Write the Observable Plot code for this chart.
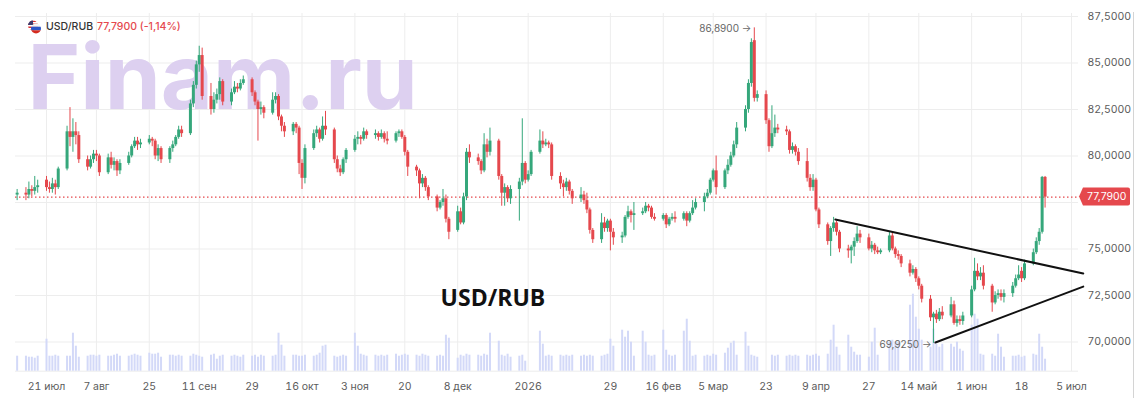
<!DOCTYPE html>
<html>
<head>
<meta charset="utf-8">
<script src="https://cdn.jsdelivr.net/npm/d3@7"></script>
<script src="https://cdn.jsdelivr.net/npm/@observablehq/plot@0.6"></script>
<style>
  body { margin: 0; background: #fff; font-family: Inter, "Noto Sans", sans-serif; overflow: hidden; }
  #chart { position: relative; width: 1146px; height: 413px; overflow: hidden; background: #fff; }
  #chart svg.layer { position: absolute; left: 0; top: 0; }
  #hdr { position: absolute; left: 27px; top: 20px; font-size: 10.5px; line-height: 14px; display: flex; align-items: center; z-index: 5; white-space: nowrap; }
  #hdr svg { margin-right: 4px; }
  #hdr .sym { color: #333; font-weight: 500; }
  #hdr .chg { color: #e5484d; font-weight: 500; margin-left: 4px; }
  #border { position: absolute; left: 1133px; top: 12px; width: 1px; height: 386px; background: #d4d4d4; }
</style>
</head>
<body>
<div id="chart">
  <div id="hdr">
    <svg width="15" height="14" viewBox="0 0 15 14">
      <defs>
        <clipPath id="cu"><circle cx="6" cy="5.5" r="5"/></clipPath>
        <clipPath id="cr"><circle cx="9" cy="8.5" r="5"/></clipPath>
      </defs>
      <g clip-path="url(#cu)">
        <rect x="0" y="0" width="12" height="11" fill="#fff"/>
        <rect x="0" y="0.5" width="12" height="1.5" fill="#d33"/>
        <rect x="0" y="3.5" width="12" height="1.5" fill="#d33"/>
        <rect x="0" y="6.5" width="12" height="1.5" fill="#d33"/>
        <rect x="0" y="9.5" width="12" height="1.5" fill="#d33"/>
        <rect x="0" y="0" width="6" height="5" fill="#3c3b6e"/>
      </g>
      <g clip-path="url(#cr)">
        <rect x="3" y="3" width="12" height="3.7" fill="#f4f4f4"/>
        <rect x="3" y="6.7" width="12" height="3.6" fill="#2b55c7"/>
        <rect x="3" y="10.3" width="12" height="4" fill="#d52b1e"/>
      </g>
    </svg>
    <span class="sym">USD/RUB</span><span class="chg" id="chg"></span>
  </div>
  <div id="border"></div>
</div>
<script>
// ---- data ----
const firstDay = "2025-07-11"; // first trading day shown; bars follow on weekdays

const opens = [
  77.9,
  78.0,77.9,78.2,78.1,78.3,  78.7,78.3,78.2,78.5,78.3,  79.3,81.3,81.0,81.3,81.1,  79.8,79.4,79.8,80.1,80.0,
  79.1,79.9,79.5,79.7,79.2,  79.6,80.0,80.5,80.8,80.6,  80.7,80.9,80.8,80.0,80.4,  79.8,80.4,80.6,81.0,81.4,
  81.2,82.8,83.8,84.9,85.4,  83.2,82.5,83.0,83.3,84.0,  82.9,83.4,83.7,83.6,83.9,  84.1,83.4,82.9,82.5,82.6,
  82.3,83.0,83.2,82.1,81.6,  81.3,81.7,81.5,79.6,78.8,  80.4,81.2,81.4,80.9,81.6,  81.4,79.8,79.3,79.1,79.8,
  80.3,80.9,81.0,80.9,81.3,  81.1,81.2,81.0,81.2,80.9,  80.8,81.2,81.3,81.0,80.2,  79.4,79.2,78.5,78.8,78.3,
  77.8,77.2,77.5,77.7,76.6,  76.0,77.0,76.4,77.8,80.2,  79.9,79.7,79.2,80.6,80.2,  80.8,78.9,78.0,78.3,77.7,
  78.2,78.6,79.6,78.7,79.0,  80.2,80.8,80.6,80.7,80.6,  78.9,78.5,78.3,78.6,78.1,  77.7,77.9,77.6,77.1,76.0,
  75.5,76.4,76.1,76.5,75.9,  75.6,75.7,76.7,77.0,76.8,  76.9,77.0,77.3,77.2,76.7,  76.6,76.8,76.3,76.6,76.7,
  76.6,76.9,76.5,76.9,77.2,  77.5,77.8,78.0,78.7,79.2,  78.3,79.2,79.5,80.0,80.6,  81.5,82.5,83.9,86.2,83.1,
  83.3,81.9,80.5,81.2,81.5,  81.4,81.3,80.3,80.5,80.2,  79.7,78.8,78.3,78.7,77.1,  76.3,75.4,76.1,76.4,75.9,
  75.0,74.9,75.1,75.4,75.8,  75.6,75.0,75.2,74.9,74.8,  74.9,75.7,75.0,74.7,74.6,  74.2,73.7,73.9,73.4,73.0,
  72.3,71.3,71.5,71.2,71.6,  71.4,72.0,71.0,71.2,71.1,  71.4,72.8,73.8,73.5,73.7,  73.0,72.1,72.5,72.6,72.4,
  72.6,73.0,73.4,73.8,73.4,  74.2,74.8,75.4,75.9,78.85
];
const highs = [
  78.2,
  78.3,78.6,78.4,78.9,78.7,  78.9,78.6,78.8,78.7,79.4,  81.6,82.6,82.0,81.8,81.3,  80.0,80.0,80.3,80.3,80.1,
  80.1,80.2,79.9,79.8,79.8,  80.2,80.6,81.0,81.0,80.9,  81.1,81.0,80.9,80.6,80.5,  80.5,80.8,81.1,81.6,81.6,
  83.0,84.0,85.1,85.9,85.8,  83.9,83.4,83.6,84.2,84.1,  83.6,84.0,83.9,84.1,84.3,  84.2,83.5,83.0,82.9,82.7,
  83.4,83.4,83.3,82.2,81.8,  81.8,81.8,81.6,79.8,80.6,  81.4,81.6,81.5,82.1,82.4,  81.5,80.0,79.5,79.9,80.4,
  81.1,81.3,81.1,81.5,81.4,  81.4,81.3,81.4,81.3,81.3,  81.3,81.4,81.4,81.1,80.3,  79.5,79.3,79.0,78.9,78.4,
  77.9,77.6,78.2,77.9,76.7,  77.3,77.2,78.0,80.4,80.6,  80.1,79.8,81.2,80.9,81.5,  80.9,79.0,78.5,78.4,78.4,
  78.8,82.0,79.7,79.2,80.3,  81.4,81.3,80.9,80.8,80.7,  79.1,78.7,78.8,78.7,78.2,  78.3,78.1,78.0,77.2,76.1,
  76.9,76.7,76.6,76.6,76.1,  75.9,76.8,77.3,77.1,77.5,  77.2,77.5,77.4,77.3,76.9,  76.9,76.9,76.7,76.9,77.0,
  77.0,77.0,77.0,77.6,77.7,  78.0,78.2,78.8,79.3,80.0,  79.3,79.8,80.2,80.8,81.8,  82.7,84.1,86.3,86.89,83.5,
  83.5,82.0,82.7,82.2,81.7,  81.6,81.4,80.7,80.6,80.4,  80.4,79.0,79.0,78.8,77.2,  76.4,76.2,76.7,76.5,76.0,
  75.2,75.2,75.6,76.2,76.0,  75.8,75.4,75.3,75.1,75.0,  75.9,75.9,75.1,74.9,74.7,  74.4,74.1,74.0,73.5,73.1,
  72.5,71.6,71.7,71.8,71.9,  72.4,72.2,71.4,71.4,71.6,  73.0,74.5,74.2,74.0,74.1,  73.1,72.7,72.8,72.8,72.8,
  73.2,73.6,74.1,74.0,74.4,  75.0,75.6,76.1,78.9,78.9
];
const lows = [
  77.6,
  77.6,77.7,77.8,77.9,78.0,  78.1,78.0,78.0,77.9,78.2,  79.2,80.5,80.2,80.6,79.6,  79.2,79.3,79.6,79.7,78.9,
  79.0,79.3,79.2,78.9,79.0,  79.5,79.9,80.4,80.3,80.4,  80.6,80.5,79.8,79.7,79.6,  79.6,80.2,80.5,80.9,81.0,
  81.1,82.6,83.6,84.5,83.0,  82.2,82.3,82.8,83.0,82.7,  82.7,83.3,83.4,83.5,83.8,  83.2,82.7,80.8,82.2,82.0,
  82.2,82.8,81.9,81.3,81.0,  81.1,81.2,79.0,78.2,78.5,  80.3,81.0,80.7,80.8,81.1,  79.6,79.1,78.9,79.0,79.6,
  80.2,80.6,80.6,80.8,80.9,  80.9,80.8,80.9,80.7,80.6,  80.7,81.0,80.9,80.0,78.9,  78.9,77.7,78.3,78.1,77.6,
  77.0,77.1,77.3,76.4,75.5,  75.9,76.3,76.3,77.6,79.6,  79.5,79.0,79.1,79.9,80.0,  78.7,77.3,77.3,77.5,77.4,
  76.5,78.4,78.5,78.6,78.9,  80.1,80.4,80.5,80.4,78.7,  78.2,77.8,78.1,77.9,77.4,  77.5,77.4,76.9,75.8,75.3,
  75.3,75.9,75.9,74.9,75.2,  75.3,75.6,76.6,76.4,76.0,  76.8,76.9,77.0,76.6,76.5,  76.5,76.1,76.2,76.5,76.4,
  76.5,76.2,76.4,76.8,77.1,  77.0,77.7,77.9,78.6,77.9,  78.2,79.0,79.4,79.9,80.4,  81.3,82.3,83.7,82.9,82.9,
  81.7,80.2,80.4,81.0,81.2,  81.1,80.1,80.1,80.0,79.5,  78.6,78.1,78.1,77.0,76.1,  75.2,74.6,75.9,75.7,74.8,
  74.5,74.2,74.6,75.3,75.3,  74.9,74.8,74.7,74.7,74.7,  74.8,74.9,74.5,74.4,74.0,  73.5,73.6,73.2,72.8,72.1,
  71.1,69.925,71.0,71.1,71.2,  71.3,70.9,70.8,70.9,70.9,  71.3,72.7,73.3,73.3,72.8,  71.6,72.0,72.3,72.2,72.1,
  72.4,72.9,73.3,73.2,73.3,  74.1,74.7,75.2,75.8,77.2
];
const closes = [
  78.0,
  77.9,78.2,78.1,78.3,78.4,  78.3,78.2,78.5,78.3,79.3,  81.3,81.0,81.3,81.1,79.8,  79.4,79.8,80.1,80.0,79.1,
  79.9,79.5,79.7,79.2,79.6,  80.0,80.5,80.8,80.6,80.7,  80.9,80.8,80.0,80.4,79.8,  80.4,80.6,81.0,81.4,81.2,
  82.8,83.8,84.9,85.4,83.2,  82.5,83.0,83.3,84.0,82.9,  83.4,83.7,83.6,83.9,84.1,  83.4,82.9,82.5,82.6,82.3,
  83.0,83.2,82.1,81.6,81.3,  81.7,81.5,79.6,78.8,80.4,  81.2,81.4,80.9,81.6,81.4,  79.8,79.3,79.1,79.8,80.3,
  80.9,81.0,80.9,81.3,81.1,  81.2,81.0,81.2,80.9,80.8,  81.2,81.3,81.0,80.2,79.4,  79.2,78.5,78.8,78.3,77.8,
  77.2,77.5,77.7,76.6,75.9,  77.0,76.4,77.8,80.2,79.9,  79.7,79.2,80.6,80.2,80.8,  78.9,78.0,78.3,77.7,78.2,
  78.6,79.6,78.7,79.0,80.2,  80.8,80.6,80.7,80.6,78.9,  78.5,78.3,78.6,78.1,77.7,  77.9,77.6,77.1,76.0,75.5,
  76.4,76.1,76.5,75.9,75.6,  75.7,76.7,77.0,76.8,76.9,  77.0,77.3,77.2,76.7,76.6,  76.8,76.3,76.6,76.7,76.6,
  76.9,76.5,76.9,77.2,77.5,  77.8,78.0,78.7,79.2,78.3,  79.2,79.5,80.0,80.6,81.5,  82.5,83.9,86.1,83.1,83.3,
  81.9,80.5,81.2,81.5,81.4,  81.3,80.3,80.5,80.2,79.7,  78.8,78.3,78.7,77.1,76.3,  75.4,76.1,76.4,75.9,75.0,
  74.9,75.1,75.4,75.8,75.6,  75.0,75.2,74.9,74.8,74.9,  75.7,75.0,74.7,74.6,74.2,  73.7,73.9,73.4,73.0,72.3,
  71.3,71.5,71.2,71.6,71.4,  72.0,71.0,71.2,71.1,71.4,  72.8,73.8,73.5,73.7,73.0,  72.1,72.5,72.6,72.4,72.6,
  73.0,73.4,73.6,73.4,74.2,  74.8,75.4,75.9,78.85,77.79
];
const volumes = [
  15,
  15,14,14,13,15,  32,15,15,16,15,  15,15,38,25,14,  15,16,16,15,16,
  15,15,16,17,15,  15,16,17,16,15,  18,17,17,18,14,  16,16,15,16,15,
  15,17,16,15,14,  16,17,12,15,16,  15,16,15,14,16,  15,16,14,16,15,
  15,16,38,26,15,  16,16,15,15,16,  15,16,18,25,26,  15,14,15,16,15,
  38,25,17,16,15,  16,15,16,15,16,  17,15,16,17,16,  16,15,17,16,15,
  15,16,15,36,33,  13,16,15,17,16,  16,15,17,16,38,  30,16,15,17,14,
  15,16,10,0,0,    40,27,15,16,15,  16,15,16,15,16,  15,16,15,16,15,
  15,16,17,32,25,  41,34,40,29,15,  40,29,16,15,16,  41,21,16,15,16,
  40,52,30,15,16,  15,16,15,17,16,  18,23,28,30,16,  39,25,16,15,14,
  0,0,16,15,16,    15,16,15,16,15,  16,15,16,17,15,  17,31,46,24,16,
  36,24,19,16,16,  14,29,43,16,0,   29,31,29,29,0,   66,77,54,42,31,
  24,42,27,24,27,  27,24,29,22,20,  46,57,52,17,16,  17,15,37,24,14,
  15,15,16,14,15,  17,16,37,24,12
];

const tickDates = ["2025-07-21","2025-08-07","2025-08-25","2025-09-11","2025-09-29","2025-10-16","2025-11-03",
  "2025-11-20","2025-12-08","2026-01-01","2026-01-29","2026-02-16","2026-03-05","2026-03-23","2026-04-09",
  "2026-04-27","2026-05-14","2026-06-01","2026-06-18","2026-07-05"];
const tickLabels = ["21 июл","7 авг","25","11 сен","29","16 окт","3 ноя","20","8 дек","2026","29","16 фев",
  "5 мар","23","9 апр","27","14 май","1 июн","18","5 июл"];
const priceTicks = [70, 72.5, 75, 80, 82.5, 85, 87.5];
const priceGrid = [70, 72.5, 75, 77.5, 80, 82.5, 85, 87.5];
const dayChange = "-1,14%";
const upperTrend = [{date: "2026-04-15T14:00", price: 76.59}, {date: "2026-07-09", price: 73.68}];
const lowerTrend = [{date: "2026-05-19T16:00", price: 69.97}, {date: "2026-07-09", price: 72.98}];
const chartLabel = {date: "2025-12-20", price: 72.35, text: "USD/RUB"};

// ---- build table ----
const dates = [];
for (let d = new Date(firstDay + "T00:00Z"); dates.length < closes.length; d = new Date(+d + 864e5)) {
  const wd = d.getUTCDay();
  if (wd !== 0 && wd !== 6) dates.push(d);
}
const candles = closes.map((c, i) => ({date: dates[i], open: opens[i], high: highs[i], low: lows[i], close: c, volume: volumes[i]}));
const up = candles.filter(d => d.close >= d.open);
const down = candles.filter(d => d.close < d.open);
const last = candles[candles.length - 1];
const peak = candles.reduce((a, b) => (b.high > a.high ? b : a));
const trough = candles.reduce((a, b) => (b.low < a.low ? b : a));
const fmt = v => v.toFixed(4).replace(".", ",");
const tickD = tickDates.map(s => new Date(s + "T00:00Z"));
const labelOf = new Map(tickD.map((d, i) => [+d, tickLabels[i]]));
const parseT = s => new Date(s.length > 10 ? s + "Z" : s + "T00:00Z");
const upT = upperTrend.map(d => ({date: parseT(d.date), price: d.price}));
const loT = lowerTrend.map(d => ({date: parseT(d.date), price: d.price}));

document.getElementById("chg").textContent = `${fmt(last.close)} (${dayChange})`;

const GREEN = "#35a77b", RED = "#e5484d";
const xOpts = {type: "utc", domain: [new Date("2025-07-21T00:00Z"), new Date("2026-07-05T00:00Z")], range: [46, 1071]};
const common = {
  width: 1146, height: 413, marginTop: 13, marginRight: 68, marginBottom: 42, marginLeft: 15,
  style: {background: "transparent", fontFamily: "Inter, 'Noto Sans', sans-serif", fontSize: "10.5px", color: "#5b5b5b", overflow: "visible"}
};
const priceY = {domain: [70, 87.5], range: [341.5, 16], label: null};

// layer 1: grid, axes, watermark
const layer1 = Plot.plot({
  ...common,
  x: xOpts,
  y: priceY,
  marks: [
    Plot.ruleX(tickD, {stroke: "#ededed"}),
    Plot.ruleY(priceGrid, {stroke: "#ededed"}),
    Plot.text(["Finam.ru"], {frameAnchor: "top-left", dx: 12, dy: 32, lineAnchor: "top", textAnchor: "start",
      fontSize: 90, fontWeight: 700, fill: "#ddd0f0", fontFamily: "Inter"}),
    Plot.axisX(tickD, {tickSize: 0, tickPadding: 11, tickFormat: d => labelOf.get(+d), label: null, fill: "#5b5b5b"}),
    Plot.axisY(priceTicks, {anchor: "right", tickSize: 0, tickPadding: 9, tickFormat: fmt, label: null, fill: "#5b5b5b"})
  ]
});

// layer 2: volume
const layer2 = Plot.plot({
  ...common,
  x: {...xOpts, axis: null},
  y: {domain: [0, 100], range: [370.7, 270.7], axis: null},
  marks: [
    Plot.ruleY([0], {stroke: "#ececec"}),
    Plot.ruleX(candles, {x: "date", y1: 0, y2: "volume", stroke: "#d3d9f8", strokeWidth: 2})
  ]
});

// layer 3: candles & annotations
const priceTag = (index, scales, values, dims) => {
  const y = scales.y(last.close);
  const x0 = dims.width - dims.marginRight;
  const g = d3.create("svg:g");
  g.append("path")
    .attr("d", `M${x0 + 1},${y} L${x0 + 5},${y - 9} H${x0 + 50} a2,2 0 0 1 2,2 V${y + 7} a2,2 0 0 1 -2,2 H${x0 + 5} Z`)
    .attr("fill", RED);
  g.append("text").attr("x", x0 + 9).attr("y", y).attr("dy", "0.35em")
    .attr("text-anchor", "start")
    .attr("fill", "#fff").attr("font-size", 10.5).attr("font-family", "Inter, sans-serif")
    .text(fmt(last.close));
  return g.node();
};

const layer3 = Plot.plot({
  ...common,
  x: {...xOpts, axis: null},
  y: {...priceY, axis: null},
  marks: [
    Plot.ruleY([last.close], {stroke: RED, strokeDasharray: "1.5,2.5", strokeWidth: 1.2}),
    Plot.ruleX(up, {x: "date", y1: "low", y2: "high", stroke: GREEN, strokeWidth: 1}),
    Plot.ruleX(down, {x: "date", y1: "low", y2: "high", stroke: RED, strokeWidth: 1}),
    Plot.ruleX(up, {x: "date", y1: "open", y2: "close", stroke: GREEN, strokeWidth: 3}),
    Plot.ruleX(down, {x: "date", y1: "open", y2: "close", stroke: RED, strokeWidth: 3}),
    Plot.line(upT, {x: "date", y: "price", stroke: "#111", strokeWidth: 2}),
    Plot.line(loT, {x: "date", y: "price", stroke: "#111", strokeWidth: 2}),
    Plot.text([peak], {x: "date", y: "high", text: d => fmt(d.high) + " →", textAnchor: "end", dx: -3, dy: 1, fill: "#666", fontSize: 10}),
    Plot.text([trough], {x: "date", y: "low", text: d => fmt(d.low) + " →", textAnchor: "end", dx: -2, dy: 1, fill: "#666", fontSize: 10}),
    Plot.text([chartLabel], {x: d => parseT(d.date), y: "price", text: "text", fontSize: 23, fontWeight: 700,
      fill: "#111", fontFamily: "'Open Sans', sans-serif"}),
    priceTag
  ]
});

const chart = document.getElementById("chart");
const hdr = document.getElementById("hdr");
for (const l of [layer1, layer2, layer3]) {
  l.classList.add("layer");
  chart.insertBefore(l, hdr);
}
</script>
</body>
</html>
